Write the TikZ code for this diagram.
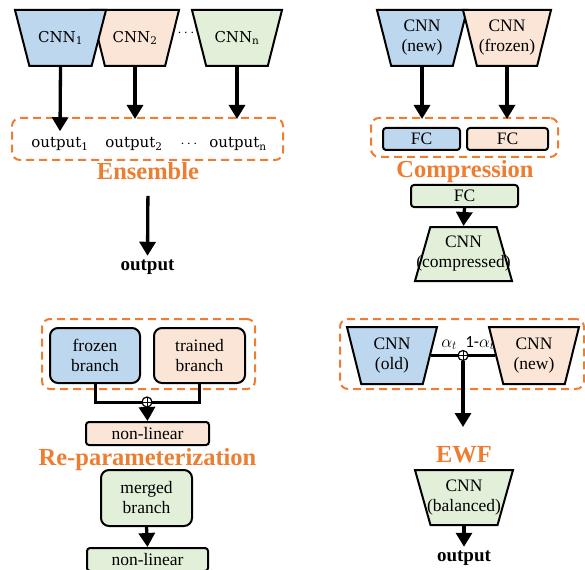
\documentclass[tikz,border=0pt]{standalone}
\usepackage{fontspec}
\setmainfont{Liberation Serif}
\newfontfamily\cambfont{DejaVu Serif}
\newfontfamily\califont{Carlito}
\usetikzlibrary{shapes.geometric,arrows.meta,positioning}

\definecolor{cnnblue}{HTML}{BDD7EE}
\definecolor{cnnpeach}{HTML}{FBE5D6}
\definecolor{cnngreen}{HTML}{E2F0D9}
\definecolor{grporange}{HTML}{ED7D31}

\tikzset{
  cnn/.style={trapezium, draw, line width=2pt, fill=#1, trapezium angle=77,
    trapezium stretches=true, inner sep=2pt, minimum height=56pt},
  inv/.style={shape border rotate=180},
  fcbox/.style={rectangle, draw, line width=2pt, fill=#1, rounded corners=3pt,
    inner sep=0pt, font=\fontsize{17.5}{20}\selectfont, align=center},
  brbox/.style={fcbox=#1, rounded corners=8pt},
  grp/.style={rectangle, draw=grporange, dash pattern=on 8pt off 5pt,
    line width=2pt, rounded corners=8pt, inner sep=0pt},
  ttl/.style={text=grporange, font=\fontsize{24.5}{26}\selectfont\bfseries, anchor=base},
  txt/.style={font=\fontsize{17.5}{20}\selectfont, align=center},
  sub/.style={font=\cambfont\fontsize{15}{17}\selectfont},
  outtxt/.style={font=\fontsize{19}{21}\selectfont\bfseries, anchor=base},
  arr/.style={-{Triangle[length=14pt,width=16pt]}, line width=3.3pt},
  conn/.style={line width=3pt},
  plus/.style={circle, draw, fill=white, inner sep=0pt, minimum size=10pt, line width=1.2pt,
    path picture={\draw[line width=1pt] (path picture bounding box.north) -- (path picture bounding box.south)
      (path picture bounding box.west) -- (path picture bounding box.east);}}
}

\begin{document}
\begin{tikzpicture}[x=1pt, y=-1pt]
  \useasboundingbox (0,0) rectangle (585,569);

  % ensemble
  \node[cnn=cnnpeach, inv, minimum width=88pt, label={[sub]center:CNN\textsubscript{2}}] (cnnB) at (135,38) {};
  \node[cnn=cnnblue, inv, minimum width=91pt, label={[sub]center:CNN\textsubscript{1}}] (cnnA) at (60.5,38) {};
  \node[cnn=cnngreen, inv, minimum width=90pt, label={[sub]center:CNN\textsubscript{n}}] (cnnN) at (237,38) {};
  \node[sub] (dotsA) at (186,33) {$\cdots$};
  \node[grp, minimum width=271pt, minimum height=42pt] (ens) at (147.5,139) {};
  \node[sub, anchor=base] (outA) at (60,148) {output\textsubscript{1}};
  \node[sub, anchor=base] (outB) at (134,148) {output\textsubscript{2}};
  \node[sub, anchor=base] (dotsB) at (189,148) {$\cdots$};
  \node[sub, anchor=base] (outN) at (238,148) {output\textsubscript{n}};
  \node[ttl] (ensT) at (148,180) {Ensemble};
  \node[outtxt] (ensOut) at (147.5,270) {output};
  \draw[arr] (cnnA.south) -- ([yshift=3pt]outA.north);
  \draw[arr] (cnnB.south) -- ([yshift=-2pt]cnnB.south |- ens.north);
  \draw[arr] (cnnN.south) -- ([yshift=-2pt]cnnN.south |- ens.north);
  \draw[arr, shorten <=12pt] (ensT.south) -- (ensOut.north);

  % compression
  \node[cnn=cnnblue, inv, minimum width=90pt, label={[txt]center:CNN\\(new)}] (cnnNew) at (422,38) {};
  \node[cnn=cnnpeach, inv, minimum width=88pt, label={[txt]center:CNN\\(frozen)}] (cnnFro) at (507,38) {};
  \node[grp, minimum width=187pt, minimum height=39pt] (cmp) at (464.5,137.5) {};
  \node[fcbox=cnnblue, minimum width=77pt, minimum height=22pt] (fcA) at (421.5,139) {FC};
  \node[fcbox=cnnpeach, minimum width=81pt, minimum height=22pt] (fcB) at (507.5,139) {FC};
  \node[ttl] (cmpT) at (465,178) {Compression};
  \node[fcbox=cnngreen, minimum width=107pt, minimum height=22pt] (fcC) at (464.5,196) {FC};
  \node[cnn=cnngreen, minimum width=97pt, minimum height=54pt, label={[txt]center:CNN\\(compressed)}] (cnnCmp) at (463.5,254) {};
  \draw[arr] (cnnNew.south) -- ([yshift=-2pt]cnnNew.south |- cmp.north);
  \draw[arr] (cnnFro.south) -- ([yshift=-2pt]cnnFro.south |- cmp.north);
  \draw[arr] (fcC.south) -- (cnnCmp.north);

  % re-parameterization
  \node[grp, minimum width=213pt, minimum height=70pt] (rep) at (148.5,354) {};
  \node[brbox=cnnblue, minimum width=90pt, minimum height=55pt] (frz) at (95,355.5) {frozen\\branch};
  \node[brbox=cnnpeach, minimum width=91pt, minimum height=55pt] (trn) at (199.5,355.5) {trained\\branch};
  \coordinate (jA) at (147,402);
  \draw[conn] (frz.south) |- (jA) -| (trn.south);
  \node[plus] (plA) at (jA) {};
  \node[fcbox=cnnpeach, minimum width=123pt, minimum height=23pt] (nlA) at (147.5,433.5) {non-linear};
  \node[ttl] (repT) at (147.5,465) {Re-parameterization};
  \node[brbox=cnngreen, minimum width=91pt, minimum height=56pt] (mrg) at (146.5,498) {merged\\branch};
  \node[fcbox=cnngreen, minimum width=121pt, minimum height=23pt] (nlB) at (147.5,559.5) {non-linear};
  \draw[arr] (plA.south) -- (nlA.north);
  \draw[arr] (mrg.south) -- (nlB.north);

  % ewf
  \node[grp, minimum width=244pt, minimum height=70pt] (ewf) at (462,354) {};
  \node[cnn=cnnblue, inv, minimum width=90pt, minimum height=57pt, label={[txt]center:CNN\\(old)}] (cnnOld) at (392,355.5) {};
  \node[cnn=cnnpeach, inv, minimum width=90pt, minimum height=57pt, label={[txt]center:CNN\\(new)}] (cnnNw2) at (534,355.5) {};
  \draw[conn] (cnnOld.east) -- (cnnNw2.west);
  \node[plus] (plB) at (463,355.5) {};
  \node[font=\fontsize{18}{20}\selectfont, anchor=base] (alA) at (449,347) {$\alpha_t$};
  \node[font=\califont\fontsize{17}{19}\selectfont, anchor=base] (alB) at (480,347) {1-$\alpha_t$};
  \coordinate (ewfIn) at (463,427);
  \draw[arr] (plB.south) -- (ewfIn);
  \node[ttl] (ewfT) at (464,462) {EWF};
  \node[cnn=cnngreen, inv, minimum width=98pt, minimum height=55pt, label={[txt]center:CNN\\(balanced)}] (cnnBal) at (464,497.5) {};
  \node[outtxt] (ewfOut) at (464,561) {output};
  \draw[arr] (cnnBal.south) -- (ewfOut.north);
\end{tikzpicture}
\end{document}
